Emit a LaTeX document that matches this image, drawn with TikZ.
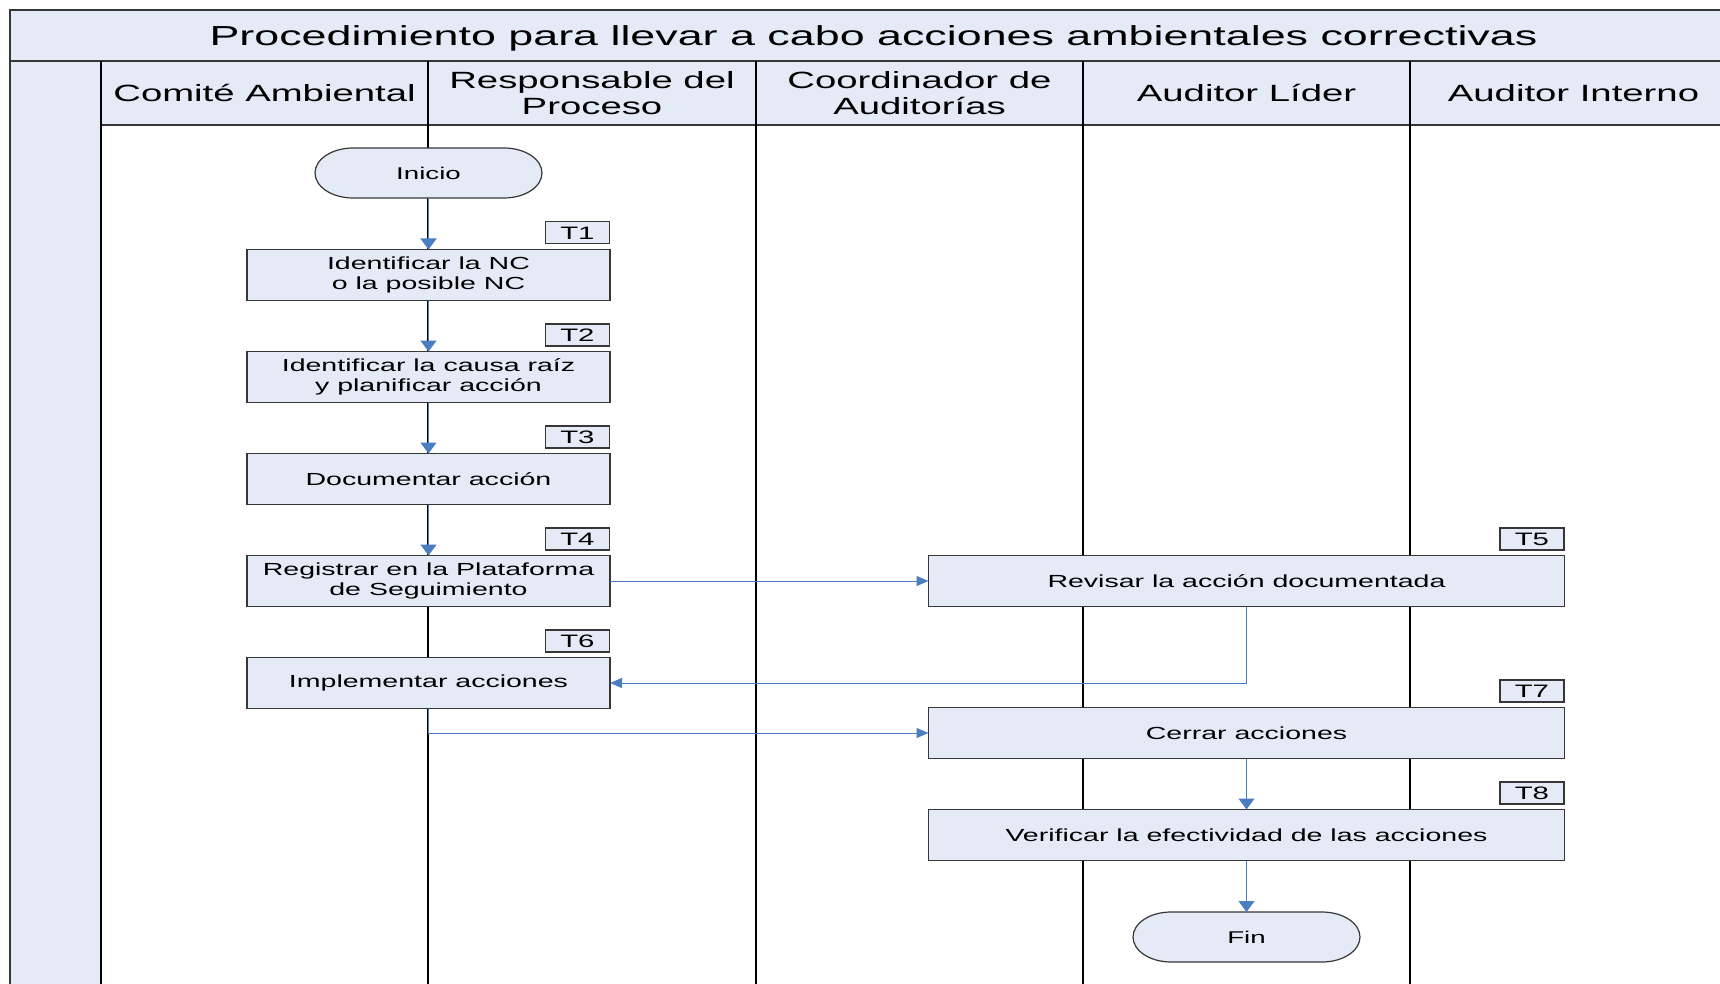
\documentclass[tikz,border=0pt]{standalone}
\usepackage{fontspec}
\setmainfont{Liberation Sans}[FakeStretch=1.63]
\usetikzlibrary{positioning,arrows.meta}
\definecolor{lanefill}{RGB}{228,235,246}
\definecolor{flowblue}{RGB}{74,126,193}
\definecolor{boxedge}{RGB}{55,55,55}
% terminal shape: name, centre, text
\newcommand{\terminal}[3]{%
  \path[termbox] ([shift={(-75.5pt,25pt)}]#2) -- ++(151pt,0pt)
    arc[start angle=90,end angle=-90,x radius=38pt,y radius=25pt]
    -- ++(-151pt,0pt)
    arc[start angle=270,end angle=90,x radius=38pt,y radius=25pt] -- cycle;
  \node[termtext] (#1) at (#2) {#3};}

\begin{document}
\begin{tikzpicture}[x=1pt,y=-1pt,node distance=51pt,
  title/.style={font=\fontsize{27.5}{30}\selectfont},
  head/.style={align=center,font=\fontsize{23.5}{26}\selectfont},
  task/.style={draw=boxedge,fill=lanefill,line width=1.2pt,minimum width=363pt,
    minimum height=51pt,inner sep=0pt,outer sep=0pt,align=center,
    font=\fontsize{17.5}{20}\selectfont},
  wide/.style={task,minimum width=636pt},
  tag/.style={draw=boxedge,fill=lanefill,line width=1.2pt,minimum width=64pt,
    minimum height=22pt,inner sep=0pt,anchor=south east,font=\fontsize{18}{18}\selectfont},
  termbox/.style={draw=boxedge,fill=lanefill,line width=1.2pt},
  termtext/.style={minimum width=227pt,minimum height=50pt,inner sep=0pt,outer sep=0pt,
    font=\fontsize{17}{17}\selectfont},
  frame/.style={draw=boxedge,line width=1.5pt},
  laneline/.style={line width=1.5pt},
  flow/.style={draw=flowblue,line width=1.8pt,-{Triangle[length=11pt,width=16pt]}},
  flowthin/.style={draw=flowblue,line width=1pt,-{Triangle[length=11pt,width=16pt]}},
  link/.style={draw=flowblue,line width=1pt,-{Triangle[length=12pt,width=10pt]}}]
\useasboundingbox (0,0) rectangle (1720,984);
\clip (0,0) rectangle (1720,984);

% pool, header and lanes
\fill[lanefill] (10,10) rectangle (1737,125);
\fill[lanefill] (10,125) rectangle (101,995);
\draw[frame] (1737,10) -- (10,10) -- (10,995);
\draw[frame] (10,61) -- (1737,61);
\draw[frame] (101,125) -- (1737,125);
\foreach \x in {101,428,756,1083,1410}
  \draw[laneline] (\x,61) -- (\x,995);

\node[title] (titulo) at (873.5,38.5) {Procedimiento para llevar a cabo acciones ambientales correctivas};
\node[head] (h1) at (264.5,93) {Comité Ambiental};
\node[head] (h2) at (592,93) {Responsable del\\Proceso};
\node[head] (h3) at (919.5,93) {Coordinador de\\Auditorías};
\node[head] (h4) at (1246.5,93) {Auditor Líder};
\node[head] (h5) at (1573.5,93) {Auditor Interno};

% tasks
\terminal{inicio}{428.5,173}{Inicio}
\node[task] (t1) at (428.5,275) {Identificar la NC\\o la posible NC};
\node[task,below=of t1] (t2) {Identificar la causa raíz\\y planificar acción};
\node[task,below=of t2] (t3) {Documentar acción};
\node[task,below=of t3] (t4) {Registrar en la Plataforma\\de Seguimiento};
\node[task,below=of t4] (t6) {Implementar acciones};
\node[wide] (t5) at (1246.5,581) {Revisar la acción documentada};
\node[wide,below=101pt of t5] (t7) {Cerrar acciones};
\node[wide,below=of t7] (t8) {Verificar la efectividad de las acciones};
\terminal{fin}{1246.5,937}{Fin}

\foreach \t/\n in {t1/T1,t2/T2,t3/T3,t4/T4,t5/T5,t6/T6,t7/T7,t8/T8}
  \node[tag] (tag-\t) at ([yshift=5pt]\t.north east) {\n};

% connectors
\draw[flow] (inicio) -- (t1);
\draw[flow] (t1) -- (t2);
\draw[flow] (t2) -- (t3);
\draw[flow] (t3) -- (t4);
\draw[link] (t4) -- (t5);
\draw[link] (t5.south) |- (t6.east);
\draw[link] (t6.south) |- (t7.west);
\draw[flowthin] (t7) -- (t8);
\draw[flowthin] (t8) -- (fin);
\end{tikzpicture}
\end{document}
